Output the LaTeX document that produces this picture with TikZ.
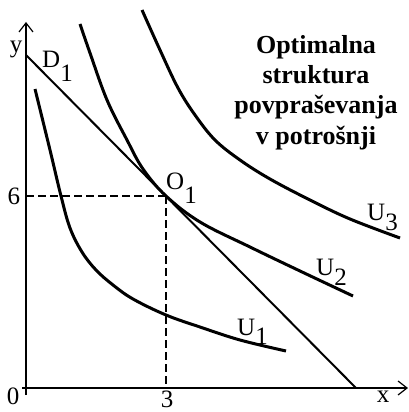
\documentclass[tikz,border=0pt]{standalone}
\usepackage{fontspec}
\setmainfont{Liberation Serif}
\usetikzlibrary{arrows.meta}
\newcommand\sublab[3]{#1\raisebox{-#3}{#2}}
\begin{document}
\begin{tikzpicture}[x=1pt,y=-1pt,
  axisline/.style={line width=1.6pt,-{Straight Barb[length=9pt,width=14pt,line width=1.2pt]}},
  budget/.style={line width=2pt},
  curve/.style={line width=3pt},
  guide/.style={line width=1.3pt,dash pattern=on 8pt off 4pt},
  lab/.style={font=\fontsize{25pt}{28pt}\selectfont,inner sep=0pt},
  titletxt/.style={font=\fontsize{26pt}{30.3pt}\selectfont\bfseries,align=center,inner sep=0pt}
]
\useasboundingbox (0,0) rectangle (409,412);
% coordinates
\coordinate (org) at (26,388);
\coordinate (ybot) at (26,395);
\coordinate (xleft) at (22,388);
\coordinate (ytip) at (26,22);
\coordinate (xtip) at (408,388);
\coordinate (d1) at (26,55);
\coordinate (xend) at (356,388);
\coordinate (opt) at (166,196);
\coordinate (y6) at (26,196);
\coordinate (x3) at (166,388);
% dashed guides
\draw[guide] (y6) -- (opt);
\draw[guide] (opt) -- (x3);
% axes
\draw[axisline] (ybot) -- (ytip);
\draw[axisline] (xleft) -- (xtip);
% budget line
\draw[budget] (d1) -- (xend);
% indifference curves
\draw[curve] plot[smooth,tension=0.6] coordinates {(35,89) (50,150) (61,196) (70,228) (82,252) (96,270) (113,285) (133,299) (166,315) (200,327) (240,340) (286,351)};
\draw[curve] plot[smooth,tension=0.6] coordinates {(80,24) (90,53) (107,100) (127,140) (143,169) (166,196) (200,222) (250,247) (300,271) (353,296)};
\draw[curve] plot[smooth,tension=0.6] coordinates {(142,10) (160,50) (178,88) (195,115) (215,140) (240,160) (270,179) (310,200) (350,219) (400,238)};
% labels
\node[lab] (ylab) at (16,49) {y};
\node[lab] (xlab) at (383,397) {x};
\node[lab] (zero) at (13,396) {0};
\node[lab] (six) at (14,196) {6};
\node[lab] (three) at (167,399) {3};
\node[lab,anchor=base west] (dlab) at (42,67) {\sublab{D}{1}{14pt}};
\node[lab,anchor=base west] (olab) at (166,189) {\sublab{O}{1}{14pt}};
\node[lab,anchor=base west] (u1lab) at (237,335) {\sublab{U}{1}{9pt}};
\node[lab,anchor=base west] (u2lab) at (316,275) {\sublab{U}{2}{10pt}};
\node[lab,anchor=base west] (u3lab) at (367,220) {\sublab{U}{3}{10pt}};
% title
\node[titletxt,anchor=north] (title) at (316,35) {Optimalna\\struktura\\povpraševanja\\v potrošnji};
\end{tikzpicture}
\end{document}
